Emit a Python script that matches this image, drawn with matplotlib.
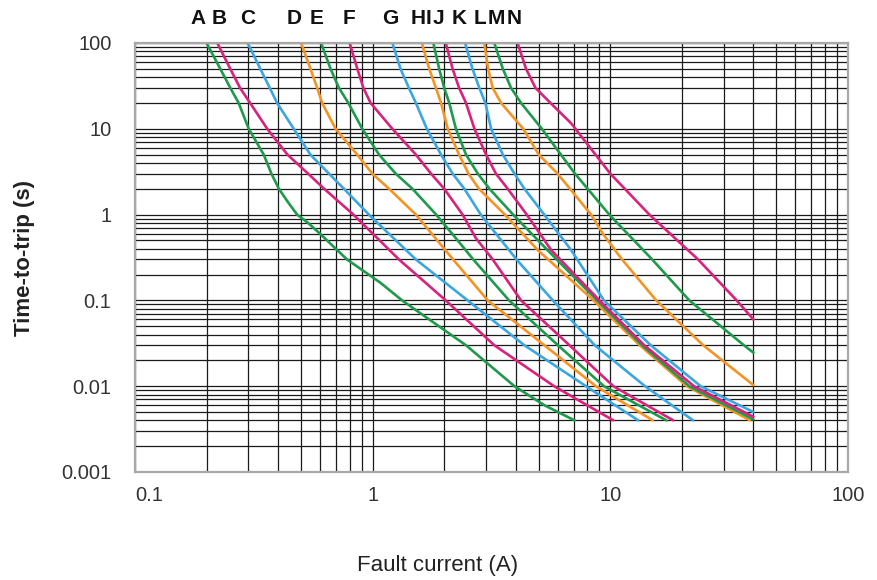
import matplotlib
matplotlib.use("Agg")
import matplotlib.pyplot as plt
import matplotlib.transforms as mtransforms

plt.rcParams["font.family"] = ["Liberation Sans", "DejaVu Sans"]

# curve letters and colours (green / magenta / blue / orange cycle)
labels = list("ABCDEFGHIJKLMN")
GREEN, PINK, BLUE, ORANGE = "#1f9a4c", "#d8237c", "#3ba6e0", "#f39426"
colors = [GREEN, PINK, BLUE, ORANGE] * 3 + [GREEN, PINK]

# x position of each letter above the plot (A)
label_x = [0.185, 0.226, 0.297, 0.469, 0.581, 0.792, 1.18, 1.55, 1.72, 1.90, 2.31, 2.83, 3.30, 3.94]

# trip curves: fault current (A) and time-to-trip (s)
current_pts = [
    [0.2, 0.2285, 0.2517, 0.273, 0.301, 0.348, 0.375, 0.403, 0.44, 0.481, 0.535, 0.60, 0.78, 1.08, 1.33, 2.47, 3.95, 5.28, 7.07],  # A
    [0.222, 0.2517, 0.2766, 0.305, 0.36, 0.438, 0.535, 0.625, 0.83, 1.29, 2.03, 3.25, 5.8, 10.3],               # B
    [0.298, 0.3367, 0.369, 0.396, 0.4655, 0.547, 0.655, 0.757, 0.964, 1.52, 2.51, 4.35, 7.9, 13.1],              # C
    [0.5, 0.5475, 0.584, 0.613, 0.698, 0.861, 0.997, 1.172, 1.52, 2.18, 3.05, 5.28, 8.7, 15.1],                  # D
    [0.607, 0.665, 0.721, 0.79, 0.904, 1.064, 1.25, 1.47, 1.85, 2.24, 2.65, 3.75, 6.02, 9.4, 17.2],              # E
    [0.8, 0.862, 0.914, 0.98, 1.21, 1.52, 1.76, 2.0, 2.39, 2.72, 3.2, 4.21, 6.73, 10.3, 18.4],                   # F
    [1.21, 1.31, 1.42, 1.52, 1.69, 1.94, 2.17, 2.43, 2.85, 4.03, 5.73, 8.6, 14.0, 22.3],                         # G
    [1.61, 1.73, 1.845, 1.94, 2.07, 2.31, 2.53, 2.8, 3.6, 4.95, 8.5, 13.3, 21.0, 38.7],                          # H
    [1.80, 1.905, 2.0, 2.10, 2.24, 2.47, 2.77, 3.1, 3.9, 5.44, 8.8, 13.6, 21.5, 40.0],                           # I
    [2.03, 2.17, 2.31, 2.47, 2.68, 3.0, 3.30, 3.70, 4.45, 5.64, 9.0, 13.9, 22.5, 40.0],                          # J
    [2.45, 2.63, 2.81, 2.98, 3.15, 3.53, 3.95, 4.35, 5.27, 6.84, 9.4, 14.8, 24.0, 40.0],                         # K
    [2.95, 3.06, 3.2, 3.47, 4.3, 5.0, 6.0, 8.3, 9.3, 11.2, 15.6, 24.6, 40.0],                                    # L
    [3.25, 3.53, 3.82, 4.21, 5.15, 7.1, 9.9, 15.0, 21.5, 36.5, 40.0],                                            # M
    [4.07, 4.42, 4.84, 5.6, 6.84, 10.0, 14.6, 23.4, 34.0, 40.0],                                                 # N
]
time_pts = [
    [100, 50, 30, 20, 10, 5, 3, 2, 1.4, 1, 0.8, 0.6, 0.3, 0.16, 0.1, 0.03, 0.01, 0.006, 0.004],
    [100, 50, 30, 20, 10, 5, 3, 2, 1, 0.3, 0.1, 0.03, 0.01, 0.004],
    [100, 50, 30, 20, 10, 5, 3, 2, 1, 0.3, 0.1, 0.03, 0.01, 0.004],
    [100, 50, 30, 20, 10, 5, 3, 2, 1, 0.3, 0.1, 0.03, 0.01, 0.004],
    [100, 50, 30, 20, 10, 5, 3, 2, 1, 0.53, 0.3, 0.1, 0.03, 0.01, 0.004],
    [100, 50, 30, 20, 10, 5, 3, 2, 1, 0.53, 0.3, 0.1, 0.03, 0.01, 0.004],
    [100, 50, 30, 20, 10, 5, 3, 2, 1, 0.3, 0.1, 0.03, 0.01, 0.004],
    [100, 50, 30, 20, 10, 5, 3, 2, 1, 0.386, 0.1, 0.03, 0.01, 0.004],
    [100, 50, 30, 20, 10, 5, 3, 2, 1, 0.386, 0.1, 0.03, 0.01, 0.0041],
    [100, 50, 30, 20, 10, 5, 3, 2, 1, 0.386, 0.1, 0.03, 0.01, 0.0044],
    [100, 50, 30, 20, 10, 5, 3, 2, 1, 0.386, 0.1, 0.03, 0.01, 0.005],
    [100, 50, 30, 20, 10, 5, 3, 1, 0.6, 0.3, 0.1, 0.03, 0.0103],
    [100, 50, 30, 20, 10, 3, 1, 0.3, 0.1, 0.03, 0.0246],
    [100, 50, 30, 20, 11.6, 3, 1, 0.3, 0.1, 0.06],
]

x_ticks = [0.1, 1, 10, 100]
x_ticklabels = ["0.1", "1", "10", "100"]
y_ticks = [0.001, 0.01, 0.1, 1, 10, 100]
y_ticklabels = ["0.001", "0.01", "0.1", "1", "10", "100"]

fig = plt.figure(figsize=(8.78, 5.8), dpi=100)
ax = fig.add_axes([135 / 878, 1 - 472 / 580, 713 / 878, 429 / 580])

for I, t, c in zip(current_pts, time_pts, colors):
    ax.plot(I, t, color=c, lw=1.9, solid_capstyle="round", solid_joinstyle="round", zorder=3)

ax.set_xscale("log"); ax.set_yscale("log")
ax.set_xlim(0.1, 100); ax.set_ylim(0.001, 100)
ax.grid(True, which="both", color="#1a1a1a", lw=0.9)
ax.set_xticks(x_ticks); ax.set_xticklabels(x_ticklabels)
ax.set_yticks(y_ticks); ax.set_yticklabels(y_ticklabels)
ax.tick_params(which="both", length=0, labelsize=14.5, labelcolor="#333333")
ax.tick_params(axis="x", pad=10)
ax.tick_params(axis="y", pad=17)
ax.get_xticklabels()[0].set_ha("left")
for s in ax.spines.values():
    s.set_color("#a8a8a8"); s.set_linewidth(1.6); s.set_zorder(4)

trans = mtransforms.blended_transform_factory(ax.transData, ax.transAxes)
for lx, lab in zip(label_x, labels):
    ax.text(lx, 1.058, lab, transform=trans, ha="center", va="center",
            fontsize=15, fontweight="bold", color="#111111")

fig.text(25 / 878, 1 - 258 / 580, "Time-to-trip (s)", rotation=90, ha="center", va="center",
         fontsize=16, fontweight="bold", color="#222222")
fig.text(438 / 878, 1 - 565 / 580, "Fault current (A)", ha="center", va="center",
         fontsize=16, color="#222222")

fig.savefig("out.png", dpi=100)
